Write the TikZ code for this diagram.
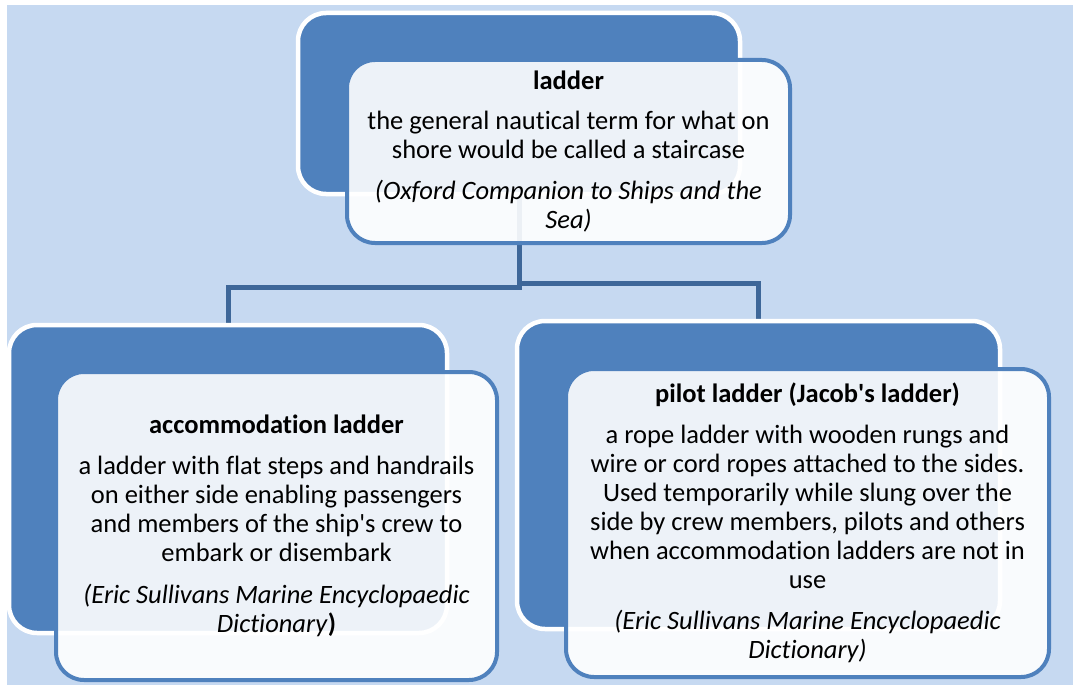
\documentclass[tikz,border=0pt]{standalone}
\usepackage{fontspec}
\setmainfont{Carlito}[Ligatures={TeX,NoCommon}]
\definecolor{sheet}{HTML}{C6D9F1}
\definecolor{deep}{HTML}{4F81BD}
\definecolor{stem}{HTML}{3E6799}
\pgfdeclarelayer{background}
\pgfsetlayers{background,main}
\begin{document}
\begin{tikzpicture}[x=1pt,y=-1pt,
		back/.style={draw=white,line width=4.5,fill=deep,rounded corners=28},
		card/.style={draw=deep,line width=4,fill=white,fill opacity=0.9,text opacity=1,
			rounded corners=28,align=center,font=\fontsize{26.5}{29}\selectfont},
		link/.style={draw=stem,line width=5}]
		\useasboundingbox (0,0) rectangle (1073,685);
		\node[back,minimum width=442,minimum height=181] (topback) at (519,103.5) {};
		\node[back,minimum width=438,minimum height=308] (leftback) at (228,479) {};
		\node[back,minimum width=483,minimum height=308] (rightback) at (758.5,475) {};
		\node[card,minimum width=443,minimum height=183] (top) at (568.5,151.5)
			{\textbf{ladder}\\[11pt]
			the general nautical term for what on\\
			shore would be called a staircase\\[12pt]
			\textit{(Oxford Companion to Ships and the}\\
			\textit{Sea)}};
		\node[card,minimum width=441,minimum height=308] (left) at (276.5,526)
			{\textbf{accommodation ladder}\\[12pt]
			a ladder with flat steps and handrails\\
			on either side enabling passengers\\
			and members of the ship\textquotesingle s crew to\\
			embark or disembark\\[13pt]
			\textit{(Eric Sullivans Marine Encyclopaedic}\\
			\textit{Dictionary}\textbf{)}};
		\node[card,minimum width=483,minimum height=308] (right) at (807.5,523)
			{\textbf{pilot ladder (Jacob\textquotesingle s ladder)}\\[12pt]
			a rope ladder with wooden rungs and\\
			wire or cord ropes attached to the sides.\\
			Used temporarily while slung over the\\
			side by crew members, pilots and others\\
			when accommodation ladders are not in\\
			use\\[12pt]
			\textit{(Eric Sullivans Marine Encyclopaedic}\\
			\textit{Dictionary)}};
		\begin{pgfonlayer}{background}
			\fill[sheet] (7,5) rectangle (1073,685);
			\draw[link] (topback.south) -- ++(0,91) -| (leftback.north);
			\draw[link] (topback.south) -- ++(0,87) -| (rightback.north);
		\end{pgfonlayer}
	\end{tikzpicture}
\end{document}
